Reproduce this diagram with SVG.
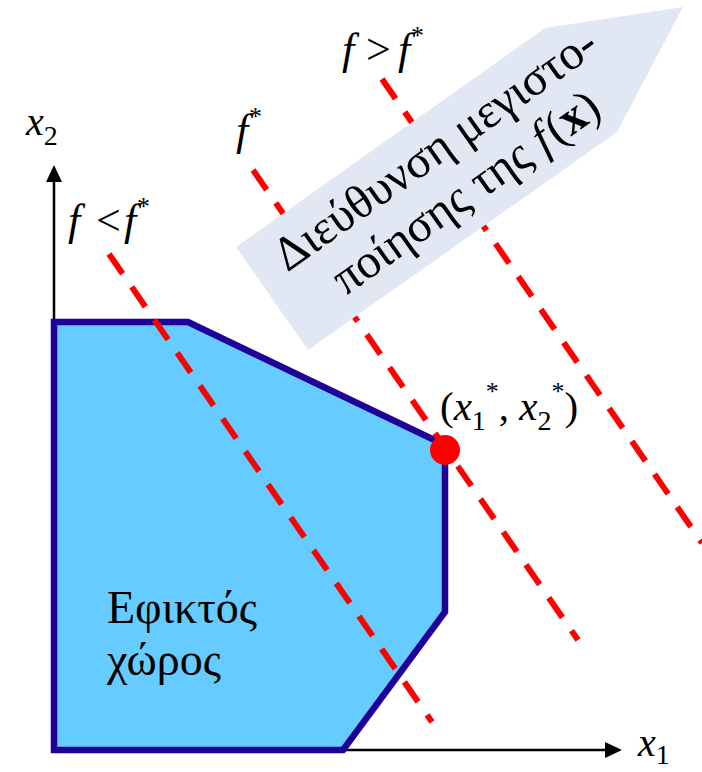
<svg xmlns="http://www.w3.org/2000/svg" width="702" height="772" viewBox="0 0 702 772">
<defs>
<style>
.axis{stroke:#000;stroke-width:2.5;fill:none}
.head{fill:#000}
.dash{stroke:#ff0000;stroke-width:6;stroke-dasharray:24 16;fill:none}
.serif{font-family:"Liberation Serif","DejaVu Serif",serif;fill:#000}
.it{font-style:italic}
</style>
</defs>
<g id="axes">
<line class="axis" x1="54" y1="750" x2="54" y2="178"/>
<polygon class="head" points="54,165 46,182 62,182"/>
<line class="axis" x1="54" y1="750" x2="609" y2="750"/>
<polygon class="head" points="622,750 605,742 605,758"/>
</g>
<g id="feasible-region">
<polygon points="54,322 188,322 445,445 445,612 343,750 54,750" fill="#66ccff" stroke="#1f0099" stroke-width="6.5" stroke-linejoin="miter"/>
<text class="serif" x="107" y="623" font-size="46">Εφικτός</text>
<text class="serif" x="107" y="675" font-size="46">χώρος</text>
</g>
<g id="connectors">
<line class="dash" x1="109" y1="254" x2="432" y2="722"/>
<line class="dash" x1="253" y1="170" x2="578" y2="640"/>
<line class="dash" x1="382" y1="79" x2="702" y2="543"/>
</g>
<g id="direction-arrow">
<polygon points="236,247 545,28 683,7 617,132 308,350" fill="#e1e8f4"/>
<g transform="translate(455,177) rotate(-35.3)">
<text class="serif" x="0" y="-19" font-size="48" text-anchor="middle">Διεύθυνση μεγιστο-</text>
<text class="serif" x="0" y="34" font-size="48" text-anchor="middle">ποίησης της <tspan class="it">f</tspan><tspan dx="3">(</tspan><tspan font-weight="bold">x</tspan>)</text>
</g>
</g>
<g id="optimum">
<circle cx="445" cy="450" r="15" fill="#ff0000"/>
<text class="serif" font-size="41" y="420"><tspan x="440">(</tspan><tspan class="it">x</tspan><tspan font-size="28" dy="10">1</tspan><tspan font-size="26" dy="-30">*</tspan><tspan dy="20">, </tspan><tspan class="it">x</tspan><tspan font-size="28" dy="10">2</tspan><tspan font-size="26" dy="-30">*</tspan><tspan dy="20">)</tspan></text>
</g>
<g id="labels">
<text class="serif" font-size="44" y="64"><tspan class="it" x="342">f</tspan><tspan x="366">&gt;</tspan><tspan class="it" x="398">f</tspan><tspan font-size="26" x="411" dy="-20">*</tspan></text>
<text class="serif" font-size="44" y="145"><tspan class="it" x="236">f</tspan><tspan font-size="26" x="249" dy="-20">*</tspan></text>
<text class="serif" font-size="44" y="235"><tspan class="it" x="68">f</tspan><tspan x="96">&lt;</tspan><tspan class="it" x="124">f</tspan><tspan font-size="26" x="137" dy="-20">*</tspan></text>
<text class="serif" font-size="40" y="135"><tspan class="it" x="26">x</tspan><tspan font-size="28" dy="10">2</tspan></text>
<text class="serif" font-size="40" y="756"><tspan class="it" x="638">x</tspan><tspan font-size="28" dy="8">1</tspan></text>
</g>
</svg>
